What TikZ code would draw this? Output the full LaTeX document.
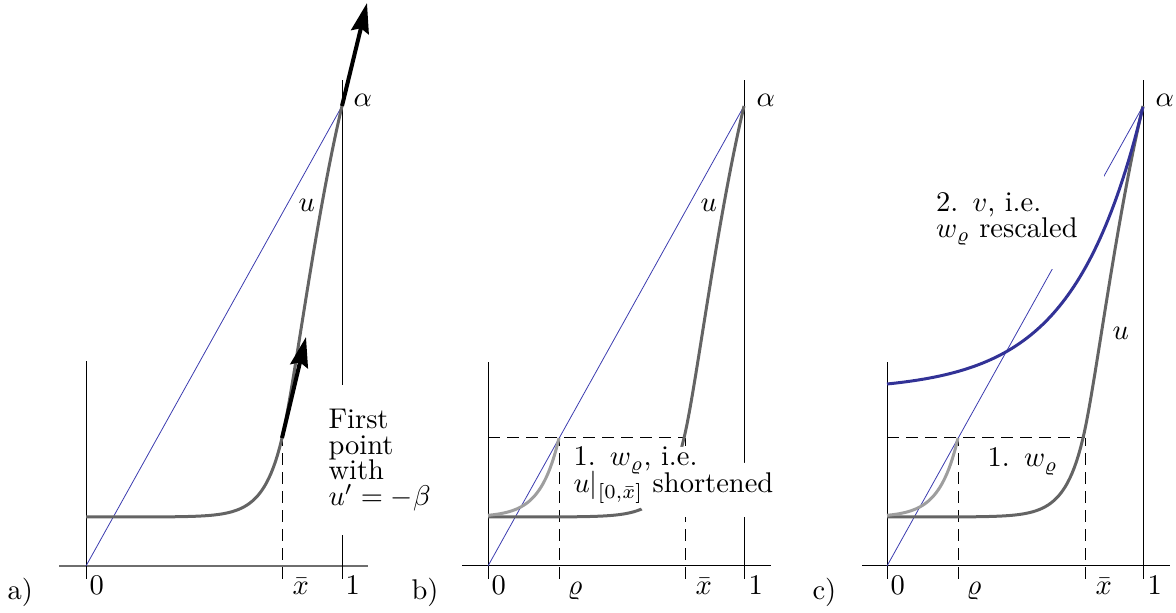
\documentclass[tikz,border=0pt]{standalone}
\usetikzlibrary{arrows.meta}
\definecolor{ugray}{RGB}{100,100,100}
\definecolor{wgray}{RGB}{158,158,158}
\definecolor{thinblue}{RGB}{60,60,175}
\definecolor{vblue}{RGB}{50,50,150}
\definecolor{axgray}{RGB}{110,110,110}
\begin{document}
\begin{tikzpicture}[x=1pt,y=1pt,
  every node/.style={scale=2.85, font=\fontsize{10}{9.02}\selectfont, inner sep=0pt},
  axisline/.style={black,line width=1pt},
  diag/.style={thinblue,line width=0.8pt},
  ucurve/.style={ugray,line width=3pt},
  wcurve/.style={wgray,line width=3pt},
  vcurve/.style={vblue,line width=3pt},
  guide/.style={black,line width=1pt,dash pattern=on 12pt off 7pt},
  slope/.style={black,line width=4pt,-{Stealth[length=30pt,width=18pt,inset=4pt]}},
  lab/.style={anchor=base west},
  whitelabel/.style={fill=white,align=left,anchor=north west},
]
\useasboundingbox (0,0) rectangle (1176,613);

% ---------- panel a ----------
\begin{scope}[shift={(86,47)}]
  \draw[axgray,line width=2pt] (-27,0) -- (282,0);
  \draw[axisline] (0,-13) -- (0,205);
  \draw[axisline] (256,-13) -- (256,486);
  \draw[diag] (0,0) -- (256,460);
  \draw[guide] (196,-13) -- (196,128);
  \draw[ucurve] plot[domain=0:196,samples=90] (\x,{49+79*exp(0.054*(\x-196))})
     .. controls (208.1,178) and (227.8,340) .. (256,460);
  \draw[slope] (196,128) -- (220,229);
  \draw[slope] (256,460) -- (281,563);
  \node[whitelabel,inner xsep=2.1pt,inner ysep=8.4pt] (noteA) at (236,181.5)
     {First\\point\\with\\$u'=-\beta$};
  \node[lab] (alphaA) at (267,459) {$\alpha$};
  \node[lab] (uA) at (212,354) {$u$};
  \node[lab] (zeroA) at (3,-29) {$0$};
  \node[lab] (xbarA) at (206,-29) {$\bar{x}$};
  \node[lab] (oneA) at (259,-29) {$1$};
\end{scope}
\node[lab] (tagA) at (7,13) {a)};

% ---------- panel b ----------
\begin{scope}[shift={(488,47)}]
  \draw[axisline] (-26,0) -- (283,0);
  \draw[axisline] (0,-13) -- (0,204);
  \draw[axisline] (256,-13) -- (256,486);
  \draw[diag] (0,0) -- (256,460);
  \draw[guide] (0,128) -- (197,128);
  \draw[guide] (71,-13) -- (71,128);
  \draw[guide] (197,-13) -- (197,128);
  \draw[ucurve] plot[domain=0:196,samples=90] (\x,{49+79*exp(0.054*(\x-196))})
     .. controls (208.1,178) and (227.8,340) .. (256,460);
  \draw[wcurve] plot[domain=0:71,samples=60] (\x,{49+79*exp(0.054*(\x-71))});
  \fill[white] (82,119) -- (215,119) -- (215,103) -- (294,103) -- (294,49)
     -- (160,49) -- (150,62) -- (82,62) -- cycle;
  \node[lab] (noteB1) at (85,100) {1.\hspace{0.5em}$w_\varrho$, i.e.};
  \node[lab] (noteB2) at (85,73) {$u|_{[0,\bar{x}]}$ shortened};
  \node[lab] (alphaB) at (268,459) {$\alpha$};
  \node[lab] (uB) at (212,354) {$u$};
  \node[lab] (zeroB) at (3,-29) {$0$};
  \node[lab] (rhoB) at (79,-29) {$\varrho$};
  \node[lab] (xbarB) at (207,-29) {$\bar{x}$};
  \node[lab] (oneB) at (260,-29) {$1$};
\end{scope}
\node[lab] (tagB) at (411,13) {b)};

% ---------- panel c ----------
\begin{scope}[shift={(887,47)}]
  \draw[axisline] (-25,0) -- (283,0);
  \draw[axisline] (0,-13) -- (0,204);
  \draw[axisline] (256,-13) -- (256,486);
  \draw[diag] (0,0) -- (256,460);
  \draw[guide] (0,128) -- (198,128);
  \draw[guide] (71,-13) -- (71,128);
  \draw[guide] (198,-13) -- (198,128);
  \draw[ucurve] plot[domain=0:196,samples=90] (\x,{49+79*exp(0.054*(\x-196))})
     .. controls (208.1,178) and (227.8,340) .. (256,460);
  \draw[wcurve] plot[domain=0:71,samples=60] (\x,{49+79*exp(0.054*(\x-71))});
  \node[whitelabel,inner xsep=9.1pt,inner ysep=8.4pt] (noteC) at (22.6,398)
     {2.\hspace{0.5em}$v$, i.e.\\$w_\varrho$ rescaled};
  \draw[vcurve] plot[domain=0:256,samples=90] (\x,{175+7*exp(0.01447*\x)});
  \node[lab] (noteC1) at (100,99) {1.\hspace{0.5em}$w_\varrho$};
  \node[lab] (alphaC) at (268,459) {$\alpha$};
  \node[lab] (uC) at (225,226) {$u$};
  \node[lab] (zeroC) at (3,-29) {$0$};
  \node[lab] (rhoC) at (79,-29) {$\varrho$};
  \node[lab] (xbarC) at (208,-29) {$\bar{x}$};
  \node[lab] (oneC) at (260,-29) {$1$};
\end{scope}
\node[lab] (tagC) at (812,13) {c)};
\end{tikzpicture}
\end{document}
